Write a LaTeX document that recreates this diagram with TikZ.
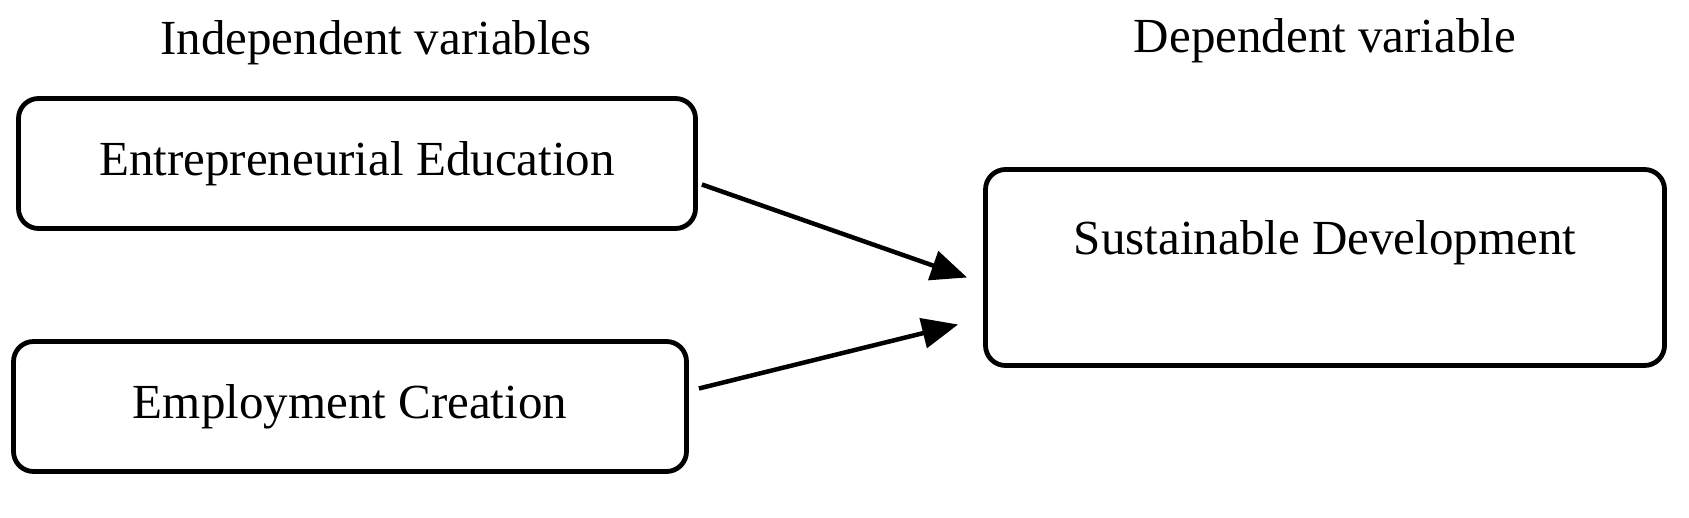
\documentclass[tikz,border=0pt]{standalone}
\usepackage{fontspec}
\setmainfont{Liberation Serif}
\usetikzlibrary{arrows.meta,positioning}

\tikzset{
    varbox/.style={draw, line width=4.8pt, rounded corners=20pt, align=center,
        font=\fontsize{49}{60}\selectfont},
    heading/.style={font=\fontsize{49}{54}\selectfont},
    link/.style={line width=4.5pt, -{Triangle[length=36pt,width=30pt]}}
}

\begin{document}
\begin{tikzpicture}[x=1pt,y=-1pt]
        \useasboundingbox (0,0) rectangle (1689,518);

        \node[heading] (indep) at (376,43) {Independent variables};
        \node[heading] (dep) at (1325,41) {Dependent variable};

        \node[varbox, minimum width=677pt, minimum height=130pt] (edu) at (357,163.5) {Entrepreneurial Education};
        \node[varbox, minimum width=673pt, minimum height=130pt] (emp) at (350,406.5) {Employment Creation};
        \node[varbox, minimum width=679pt, minimum height=196pt] (sus) at (1325,267.5) {Sustainable Development\\ \mbox{}};

        \draw[link] ([xshift=4pt,yshift=-21pt]edu.east) -- ([xshift=-16pt,yshift=-10pt]sus.west);
        \draw[link] ([xshift=10pt,yshift=18pt]emp.east) -- ([xshift=-25pt,yshift=-57pt]sus.west);
\end{tikzpicture}
\end{document}
